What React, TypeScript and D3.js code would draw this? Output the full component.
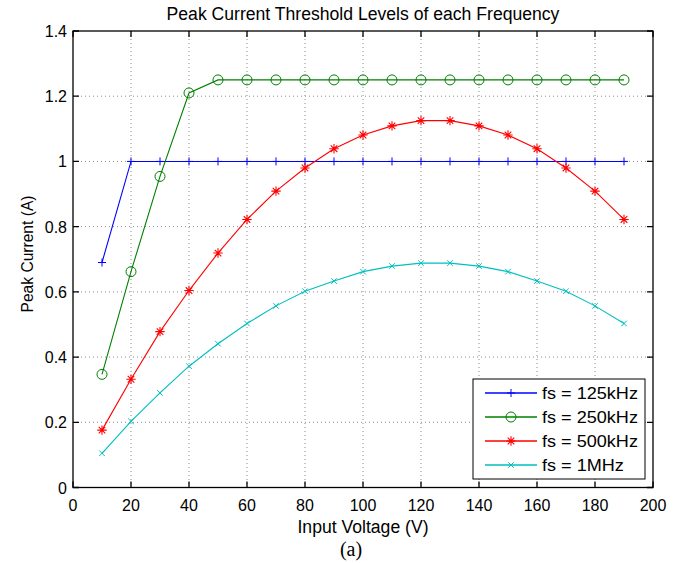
import React from "react";
import * as d3 from "d3";

const W = 688;
const H = 563;
const M = { left: 73, right: 653, top: 31, bottom: 487.5 };

const voltages = [10, 20, 30, 40, 50, 60, 70, 80, 90, 100, 110, 120, 130, 140, 150, 160, 170, 180, 190];
const fs125 = [0.69, 1, 1, 1, 1, 1, 1, 1, 1, 1, 1, 1, 1, 1, 1, 1, 1, 1, 1];
const fs250 = [0.347, 0.662, 0.954, 1.21, 1.25, 1.25, 1.25, 1.25, 1.25, 1.25, 1.25, 1.25, 1.25, 1.25, 1.25, 1.25, 1.25, 1.25, 1.25];
const fs500 = [0.176, 0.332, 0.478, 0.604, 0.719, 0.822, 0.909, 0.98, 1.039, 1.081, 1.109, 1.125, 1.125, 1.109, 1.081, 1.039, 0.98, 0.909, 0.822];
const fs1M = [0.105, 0.203, 0.29, 0.372, 0.441, 0.503, 0.557, 0.602, 0.633, 0.662, 0.679, 0.688, 0.688, 0.679, 0.662, 0.633, 0.602, 0.557, 0.503];

const seriesNames = ["fs = 125kHz", "fs = 250kHz", "fs = 500kHz", "fs = 1MHz"];
const seriesColors = ["#0000ff", "#008000", "#ff0000", "#00bfbf"];
const seriesMarkers = ["plus", "circle", "star", "cross"];
const seriesValues = [fs125, fs250, fs500, fs1M];

const xTicks = [0, 20, 40, 60, 80, 100, 120, 140, 160, 180, 200];
const yTicks = [0, 0.2, 0.4, 0.6, 0.8, 1, 1.2, 1.4];

const FONT = "'Liberation Sans', Arial, Helvetica, sans-serif";

function HText({ x, y, anchor = "start", size = 16, sx = 1, family = FONT, children }: any) {
  return (
    <text
      transform={`translate(${x},${y}) scale(${sx},1)`}
      textAnchor={anchor}
      fontSize={size}
      fontFamily={family}
      fill="#000"
    >
      {children}
    </text>
  );
}

function Marker({ type, x, y, color }: any) {
  if (type === "plus") {
    const s = 4;
    return (
      <path d={`M${x - s},${y}H${x + s}M${x},${y - s}V${y + s}`} stroke={color} strokeWidth={1} fill="none" />
    );
  }
  if (type === "circle") {
    return <circle cx={x} cy={y} r={5} stroke={color} strokeWidth={1} fill="none" />;
  }
  if (type === "star") {
    const s = 4.7;
    const d = s * 0.7;
    return (
      <path
        d={`M${x - s},${y}H${x + s}M${x},${y - s}V${y + s}M${x - d},${y - d}L${x + d},${y + d}M${x - d},${y + d}L${x + d},${y - d}`}
        stroke={color}
        strokeWidth={1.1}
        fill="none"
      />
    );
  }
  const s = 2.8;
  return (
    <path
      d={`M${x - s},${y - s}L${x + s},${y + s}M${x - s},${y + s}L${x + s},${y - s}`}
      stroke={color}
      strokeWidth={1}
      fill="none"
    />
  );
}

export default function App() {
  const x = d3.scaleLinear().domain([0, 200]).range([M.left, M.right]);
  const y = d3.scaleLinear().domain([0, 1.4]).range([M.bottom, M.top]);
  const line = d3
    .line<number>()
    .x((_, i) => x(voltages[i]))
    .y((d) => y(d));

  const tick = 6;
  const fmt = (v: number) => String(+v.toFixed(1));

  // legend layout
  const lg = { x0: 473, y0: 379, x1: 645, y1: 479, rowY: 393, rowH: 24 };

  return (
    <svg width={W} height={H} style={{ position: "absolute", left: 0, top: 0, background: "#fff" }}>
      <rect x={0} y={0} width={W} height={H} fill="#fff" />

      {/* grid */}
      <g stroke="#8c8c8c" strokeWidth={1} strokeDasharray="1,3">
        {xTicks.slice(1, -1).map((t) => (
          <line key={"gx" + t} x1={x(t)} x2={x(t)} y1={M.top} y2={M.bottom} />
        ))}
        {yTicks.slice(1, -1).map((t) => (
          <line key={"gy" + t} x1={M.left} x2={M.right} y1={y(t)} y2={y(t)} />
        ))}
      </g>

      {/* series */}
      {seriesValues.map((vals, si) => (
        <g key={seriesNames[si]}>
          <path d={line(vals) || ""} fill="none" stroke={seriesColors[si]} strokeWidth={1.1} />
          {vals.map((v, i) => (
            <Marker key={i} type={seriesMarkers[si]} x={x(voltages[i])} y={y(v)} color={seriesColors[si]} />
          ))}
        </g>
      ))}

      {/* box + ticks */}
      <g stroke="#000" strokeWidth={1.3} fill="none">
        <rect x={M.left} y={M.top} width={M.right - M.left} height={M.bottom - M.top} />
        {xTicks.map((t) => (
          <path key={"tx" + t} d={`M${x(t)},${M.bottom}v${-tick}M${x(t)},${M.top}v${tick}`} />
        ))}
        {yTicks.map((t) => (
          <path key={"ty" + t} d={`M${M.left},${y(t)}h${tick}M${M.right},${y(t)}h${-tick}`} />
        ))}
      </g>

      {/* tick labels */}
      {xTicks.map((t) => (
        <HText key={"lx" + t} x={x(t)} y={511} anchor="middle" size={16}>
          {fmt(t)}
        </HText>
      ))}
      {yTicks.map((t) => (
        <HText key={"ly" + t} x={67} y={y(t) + 6} anchor="end" size={16}>
          {fmt(t)}
        </HText>
      ))}

      {/* titles */}
      <HText x={(M.left + M.right) / 2} y={19.5} anchor="middle" size={17.6}>
        Peak Current Threshold Levels of each Frequency
      </HText>
      <HText x={(M.left + M.right) / 2} y={532.5} anchor="middle" size={17.6}>
        Input Voltage (V)
      </HText>
      <text
        transform="translate(33,254) rotate(-90)"
        textAnchor="middle"
        fontSize={15.6}
        fontFamily={FONT}
        fill="#000"
      >
        Peak Current (A)
      </text>
      <HText x={351} y={556} anchor="middle" size={20} family="'Liberation Serif', 'Times New Roman', serif">
        (a)
      </HText>

      {/* legend */}
      <rect x={lg.x0} y={lg.y0} width={lg.x1 - lg.x0} height={lg.y1 - lg.y0} fill="#fff" stroke="#000" strokeWidth={1} />
      {seriesNames.map((name, i) => {
        const cy = lg.rowY + i * lg.rowH;
        return (
          <g key={"lg" + name}>
            <line x1={485} x2={537} y1={cy} y2={cy} stroke={seriesColors[i]} strokeWidth={1.3} />
            <Marker type={seriesMarkers[i]} x={511} y={cy} color={seriesColors[i]} />
            <HText x={542} y={cy + 5.5} size={16} sx={1.13}>
              {name}
            </HText>
          </g>
        );
      })}
    </svg>
  );
}
